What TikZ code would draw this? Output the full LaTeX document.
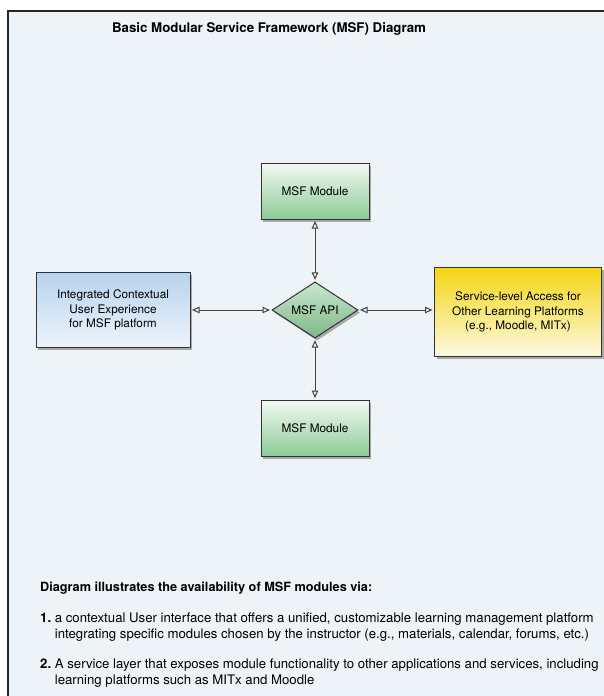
\documentclass[tikz,border=0pt]{standalone}
\usepackage{fontspec}
\setmainfont{TeX Gyre Heros}
\usetikzlibrary{shapes.geometric, arrows.meta, shadows}

\definecolor{panelbg}{RGB}{237,243,247}
\definecolor{modgreen}{RGB}{140,204,152}
\definecolor{modgreenlight}{RGB}{242,249,242}
\definecolor{uiblue}{RGB}{183,211,238}
\definecolor{uibluelight}{RGB}{238,244,251}
\definecolor{svcyellow}{RGB}{244,214,18}
\definecolor{svcyellowlight}{RGB}{252,249,228}

\begin{document}
\begin{tikzpicture}[x=1pt, y=-1pt,
  boxbase/.style={draw=black!80, line width=1pt, rectangle, align=center,
    drop shadow={shadow xshift=2pt, shadow yshift=-2.5pt, opacity=0.65},
    font=\fontsize{11.8}{14.5}\selectfont},
  modulebox/.style={boxbase, top color=modgreenlight, bottom color=modgreen,
    minimum width=108pt, minimum height=56pt},
  apinode/.style={boxbase, diamond, top color=modgreenlight!60!modgreen,
    bottom color=modgreen!90!black, minimum width=86pt, minimum height=54pt, inner sep=0pt},
  link/.style={draw=black!75, line width=1pt,
    {Triangle[open,length=7.5pt,width=6.5pt]}-{Triangle[open,length=7.5pt,width=6.5pt]},
    shorten <=1.5pt, shorten >=1.5pt}
]
\useasboundingbox (0,0) rectangle (604,696);
% Panel background and frame
\fill[white] (0,0) rectangle (604,696);
\fill[panelbg] (8,11) rectangle (604,696);
\draw[black!85, line width=1.6pt] (8,696) -- (8,11) -- (604,11);

% Title
\node[font=\bfseries\fontsize{13.3}{16}\selectfont] (title) at (269,29)
  {Basic Modular Service Framework (MSF) Diagram};

% Central API and modules
\node[apinode] (api) at (315,310) {MSF API};
\node[modulebox] (modtop) at (315,191) {MSF Module};
\node[modulebox] (modbot) at (315,428) {MSF Module};

% Access points
\node[boxbase, top color=uiblue, bottom color=uibluelight,
  minimum width=154pt, minimum height=75pt] (ui) at (113,310)
  {Integrated Contextual\\User Experience\\for MSF platform};
\node[boxbase, top color=svcyellow, bottom color=svcyellowlight,
  minimum width=167pt, minimum height=89pt] (svc) at (518,312)
  {Service-level Access for\\Other Learning Platforms\\(e.g., Moodle, MITx)};

% Connectors
\draw[link] (modtop) -- (api);
\draw[link] (modbot) -- (api);
\draw[link] (ui) -- (api);
\draw[link] (api.east) -- (api.east -| svc.west);

% Notes
\node[anchor=base west, inner sep=0pt, font=\bfseries\fontsize{12.7}{16}\selectfont]
  (notehead) at (40,591) {Diagram illustrates the availability of MSF modules via:};
\node[anchor=base west, inner sep=0pt, font=\fontsize{13.2}{16}\selectfont] (noteone) at (40,622)
  {\begin{tabular}[t]{@{}l@{\ }l@{}}
   \textbf{1.} & a contextual User interface that offers a unified, customizable learning management platform\\
   & integrating specific modules chosen by the instructor (e.g., materials, calendar, forums, etc.)
   \end{tabular}};
\node[anchor=base west, inner sep=0pt, font=\fontsize{13.2}{16}\selectfont] (notetwo) at (40,668)
  {\begin{tabular}[t]{@{}l@{\ }l@{}}
   \textbf{2.} & A service layer that exposes module functionality to other applications and services, including\\
   & learning platforms such as MITx and Moodle
   \end{tabular}};
\end{tikzpicture}
\end{document}
